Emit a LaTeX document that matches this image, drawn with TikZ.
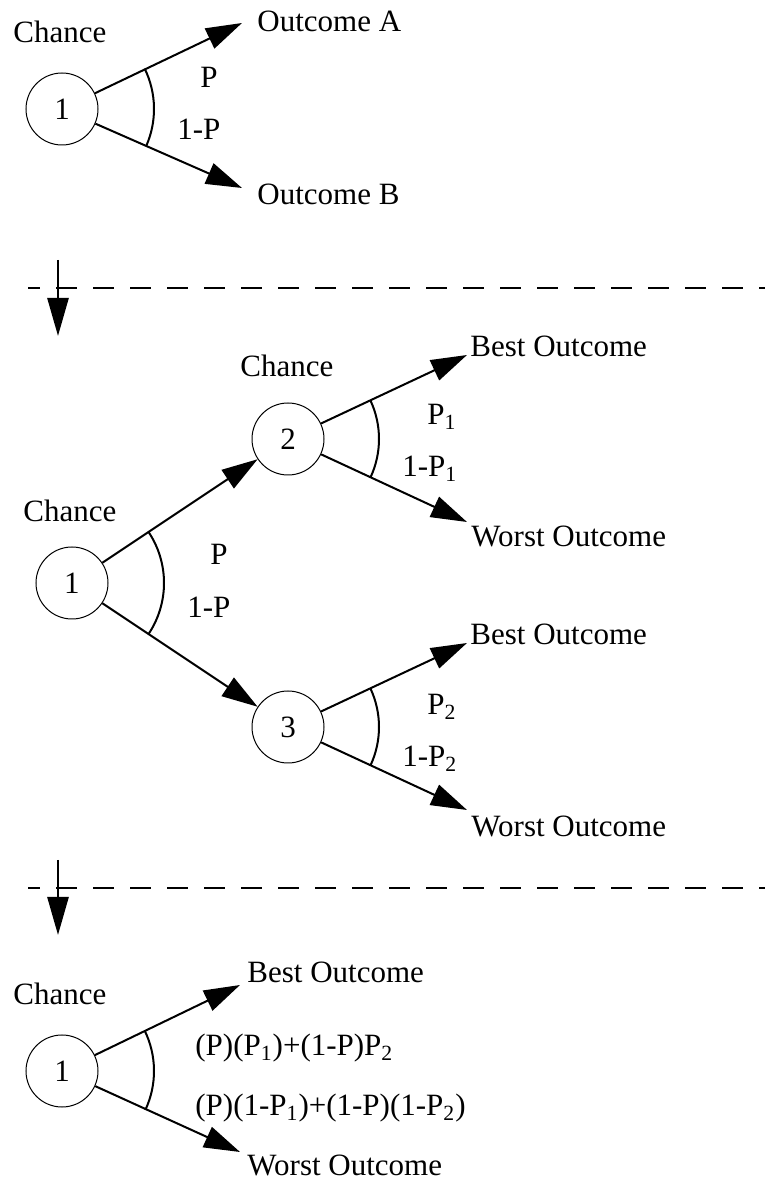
\documentclass[tikz,border=0pt]{standalone}
\usepackage{fontspec}
\setmainfont{Liberation Serif}
\usepackage{tikz}
\usetikzlibrary{
    arrows.meta
}
\tikzstyle{chance} = [
    circle, draw,
    line width=0.5pt,
    minimum size=36pt,
    inner sep=0pt
]
\tikzstyle{arrow} = [
    line width=1pt,
    -{Triangle[length=18pt,width=11pt]}
]
\tikzstyle{flow} = [
    line width=1.3pt,
    -{Triangle[length=19pt,width=10.5pt]}
]
\tikzstyle{divider} = [
    line width=1.3pt,
    dash pattern=on 10.5pt off 8pt,
    dash phase=4.5pt
]

\begin{document}
\begin{tikzpicture}[
    x=0.5pt, y=0.5pt,
    font=\fontsize{15.5pt}{18pt}\selectfont,
    txt/.style={anchor=base west, inner sep=0pt},
    sweep/.style={line width=1pt}
]
\useasboundingbox (0,0) rectangle (765,1180);

% Einzelner Zufallsknoten
\node[txt] (chA) at (13,1137) {Chance};
\node[chance] (cA) at (62,1071) {1};
\node[txt] (outA) at (257,1148) {Outcome A};
\node[txt] (outB) at (257,975) {Outcome B};
\draw[arrow] (cA) -- ([shift={(-15,9)}]outA.base west);
\draw[arrow] (cA) -- ([shift={(-15,17)}]outB.base west);
\draw[sweep] (cA.center) ++(-24:46pt) arc[start angle=-24, end angle=26, radius=46pt];
\node[txt] (pA) at (200,1092) {P};
\node[txt] (qA) at (177,1040) {1-P};

% Trennlinie
\draw[divider] (28,892) -- (765,892);
\coordinate (sA) at (58,920);
\coordinate (eA) at (58,844);
\draw[flow] (sA) -- (eA);

% Zwei Stufen
\node[txt] (chB) at (23,658) {Chance};
\node[chance] (cB) at (72,597) {1};
\node[txt] (chC) at (240,803) {Chance};
\node[chance] (cC) at (288,741) {2};
\node[chance] (cD) at (288,453) {3};
\draw[arrow] (cB) -- (cC);
\draw[arrow] (cB) -- (cD);
\draw[sweep] (cB.center) ++(-34:46pt) arc[start angle=-34, end angle=34, radius=46pt];
\node[txt] (pB) at (210,615) {P};
\node[txt] (qB) at (187,562) {1-P};

\node[txt] (bestC) at (470,823) {Best Outcome};
\node[txt] (worstC) at (471,633) {Worst Outcome};
\draw[arrow] (cC) -- ([shift={(-3,2)}]bestC.base west);
\draw[arrow] (cC) -- ([shift={(-4,25)}]worstC.base west);
\draw[sweep] (cC.center) ++(-25:45.5pt) arc[start angle=-25, end angle=25, radius=45.5pt];
\node[txt] (pC) at (427,755) {P\textsubscript{1}};
\node[txt] (qC) at (402,703) {1-P\textsubscript{1}};

\node[txt] (bestD) at (470,535) {Best Outcome};
\node[txt] (worstD) at (471,343) {Worst Outcome};
\draw[arrow] (cD) -- ([shift={(-3,2)}]bestD.base west);
\draw[arrow] (cD) -- ([shift={(-4,27)}]worstD.base west);
\draw[sweep] (cD.center) ++(-25:45.5pt) arc[start angle=-25, end angle=25, radius=45.5pt];
\node[txt] (pD) at (427,465) {P\textsubscript{2}};
\node[txt] (qD) at (402,413) {1-P\textsubscript{2}};

% Trennlinie
\draw[divider] (28,292) -- (765,292);
\coordinate (sB) at (58,320);
\coordinate (eB) at (58,245);
\draw[flow] (sB) -- (eB);

% Zusammengefasst
\node[txt] (chE) at (13,175) {Chance};
\node[chance] (cE) at (62,109) {1};
\node[txt] (bestE) at (247,197) {Best Outcome};
\node[txt] (worstE) at (247,4) {Worst Outcome};
\draw[arrow] (cE) -- ([shift={(-7,-2)}]bestE.base west);
\draw[arrow] (cE) -- ([shift={(-7,24)}]worstE.base west);
\draw[sweep] (cE.center) ++(-25:46pt) arc[start angle=-25, end angle=26, radius=46pt];
\node[txt] (pE) at (195,124) {(P)(P\textsubscript{1})+(1-P)P\textsubscript{2}};
\node[txt] (qE) at (195,64) {(P)(1-P\textsubscript{1})+(1-P)(1-P\textsubscript{2})};

\end{tikzpicture}
\end{document}
